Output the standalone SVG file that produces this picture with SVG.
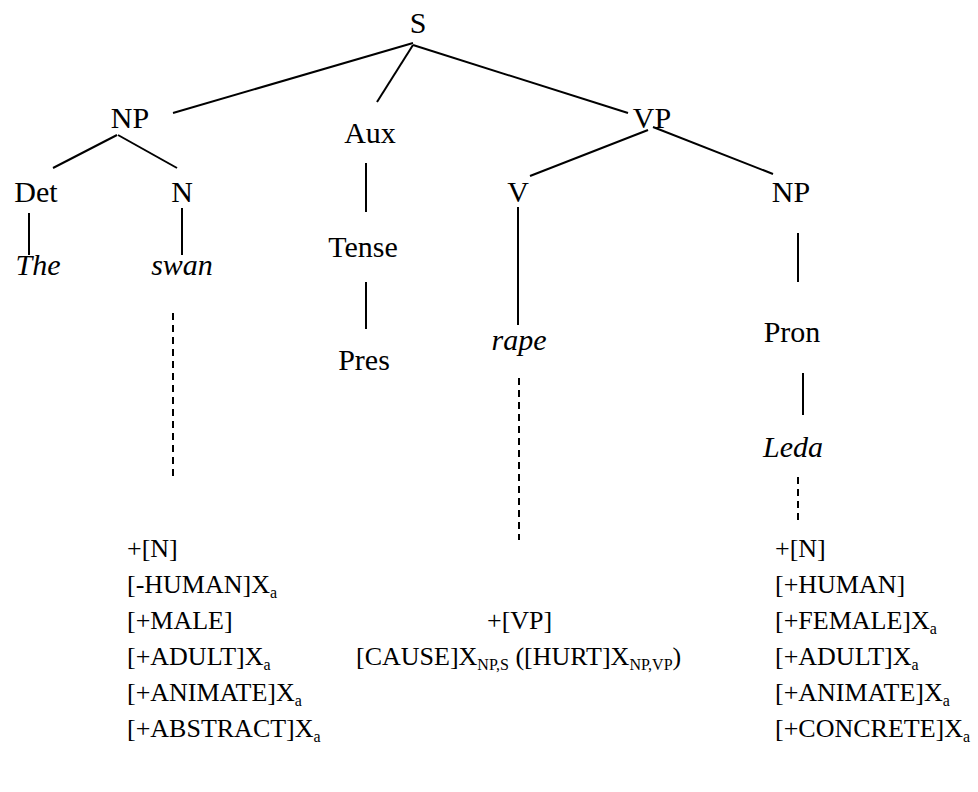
<svg xmlns="http://www.w3.org/2000/svg" width="978" height="792" viewBox="0 0 978 792" font-family="'Liberation Serif', 'Times New Roman', Times, serif">
<style>
text{font-family:'Liberation Serif', 'Times New Roman', Times, serif;fill:#000}
.t{font-size:30px;text-anchor:middle}
.i{font-style:italic}
.f{font-size:26px}
.s{font-size:16px}
.e{stroke:#000;stroke-width:2;fill:none}
.d{stroke:#000;stroke-width:2;fill:none;stroke-dasharray:7 5}
</style>
<rect width="978" height="792" fill="#fff"/>
<g id="connectors">
<line class="e" x1="413" y1="43" x2="173" y2="113"/>
<line class="e" x1="413" y1="45" x2="377" y2="102"/>
<line class="e" x1="413" y1="45" x2="628" y2="113"/>
<line class="e" x1="117" y1="135" x2="53" y2="168"/>
<line class="e" x1="118" y1="135" x2="177" y2="168"/>
<line class="e" x1="29" y1="213" x2="29" y2="255"/>
<line class="e" x1="182" y1="208" x2="182" y2="255"/>
<line class="e" x1="366" y1="163" x2="366" y2="212"/>
<line class="e" x1="366" y1="282" x2="366" y2="329"/>
<line class="e" x1="648" y1="130" x2="530" y2="176"/>
<line class="e" x1="653" y1="127" x2="773" y2="174"/>
<line class="e" x1="518" y1="207" x2="518" y2="325"/>
<line class="e" x1="798" y1="233" x2="798" y2="282"/>
<line class="e" x1="803" y1="373" x2="803" y2="415"/>
<line class="d" x1="173" y1="313" x2="173" y2="477"/>
<line class="d" x1="519" y1="378" x2="519" y2="540"/>
<line class="d" x1="798" y1="477" x2="798" y2="525"/>
</g>
<g id="n-S"><text class="t" x="418" y="33">S</text></g>
<g id="n-NP1"><text class="t" x="130" y="128">NP</text></g>
<g id="n-Aux"><text class="t" x="370" y="143">Aux</text></g>
<g id="n-VP"><text class="t" x="652" y="128">VP</text></g>
<g id="n-Det"><text class="t" x="36" y="202">Det</text></g>
<g id="n-N"><text class="t" x="182" y="202">N</text></g>
<g id="n-V"><text class="t" x="518" y="202">V</text></g>
<g id="n-NP2"><text class="t" x="791" y="202">NP</text></g>
<g id="n-The"><text class="t i" x="38" y="275">The</text></g>
<g id="n-swan"><text class="t i" x="182" y="275">swan</text></g>
<g id="n-Tense"><text class="t" x="363" y="257">Tense</text></g>
<g id="n-Pres"><text class="t" x="364" y="370">Pres</text></g>
<g id="n-rape"><text class="t i" x="519" y="350">rape</text></g>
<g id="n-Pron"><text class="t" x="792" y="342">Pron</text></g>
<g id="n-Leda"><text class="t i" x="793" y="457">Leda</text></g>
<g id="n-swan-features">
<text class="f" x="127" y="557">+[N]</text>
<text class="f" x="127" y="593">[-HUMAN]X<tspan class="s" dy="5">a</tspan></text>
<text class="f" x="127" y="629">[+MALE]</text>
<text class="f" x="127" y="665">[+ADULT]X<tspan class="s" dy="5">a</tspan></text>
<text class="f" x="127" y="701">[+ANIMATE]X<tspan class="s" dy="5">a</tspan></text>
<text class="f" x="127" y="737">[+ABSTRACT]X<tspan class="s" dy="5">a</tspan></text>
</g>
<g id="n-rape-features">
<text class="f" x="487" y="629">+[VP]</text>
<text class="f" x="356" y="665">[CAUSE]X<tspan class="s" dy="5">NP,S</tspan><tspan dy="-5"> ([HURT]X</tspan><tspan class="s" dy="5">NP,VP</tspan><tspan dy="-5">)</tspan></text>
</g>
<g id="n-Leda-features">
<text class="f" x="775" y="557">+[N]</text>
<text class="f" x="775" y="593">[+HUMAN]</text>
<text class="f" x="775" y="629">[+FEMALE]X<tspan class="s" dy="5">a</tspan></text>
<text class="f" x="775" y="665">[+ADULT]X<tspan class="s" dy="5">a</tspan></text>
<text class="f" x="775" y="701">[+ANIMATE]X<tspan class="s" dy="5">a</tspan></text>
<text class="f" x="775" y="737">[+CONCRETE]X<tspan class="s" dy="5">a</tspan></text>
</g>
</svg>
